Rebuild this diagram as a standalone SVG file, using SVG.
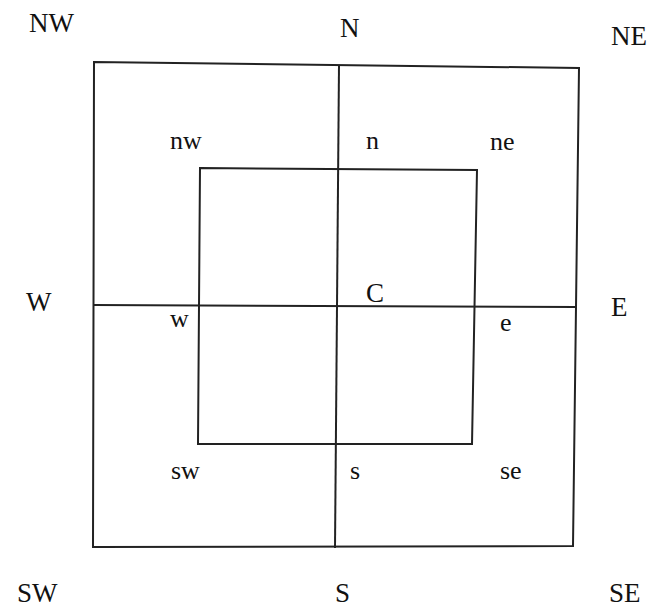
<svg xmlns="http://www.w3.org/2000/svg" width="655" height="608" viewBox="0 0 655 608">
  <style>
    .ln { fill: none; stroke: #222; stroke-width: 2; }
    .up { font-family: "Liberation Serif", "Times New Roman", serif; font-size: 27px; fill: #111; }
    .lo { font-family: "Liberation Serif", "Times New Roman", serif; font-size: 26px; fill: #111; }
  </style>
  <rect width="655" height="608" fill="#fff"/>
  <g id="connectors">
    <polygon id="outer" class="ln" points="94,62 579,68 573,546 93,547"/>
    <polygon id="inner" class="ln" points="200,168 477,170 472,444 198,444"/>
    <line id="vertical" class="ln" x1="339" y1="65" x2="335" y2="548"/>
    <line id="horizontal" class="ln" x1="93" y1="305" x2="576" y2="307"/>
  </g>
  <g id="outer-labels">
    <text id="NW" class="up" x="29" y="32">NW</text>
    <text id="N" class="up" x="340" y="37">N</text>
    <text id="NE" class="up" x="611" y="45">NE</text>
    <text id="W" class="up" x="26" y="311">W</text>
    <text id="E" class="up" x="611" y="316">E</text>
    <text id="SW" class="up" x="17" y="602">SW</text>
    <text id="S" class="up" x="335" y="602">S</text>
    <text id="SE" class="up" x="609" y="602">SE</text>
  </g>
  <g id="inner-labels">
    <text id="nw" class="lo" x="170" y="149">nw</text>
    <text id="n" class="lo" x="366" y="149">n</text>
    <text id="ne" class="lo" x="490" y="150">ne</text>
    <text id="C" class="up" x="366" y="302">C</text>
    <text id="w" class="lo" x="170" y="327">w</text>
    <text id="e" class="lo" x="500" y="331">e</text>
    <text id="sw" class="lo" x="171" y="479">sw</text>
    <text id="s" class="lo" x="350" y="479">s</text>
    <text id="se" class="lo" x="500" y="479">se</text>
  </g>
</svg>
